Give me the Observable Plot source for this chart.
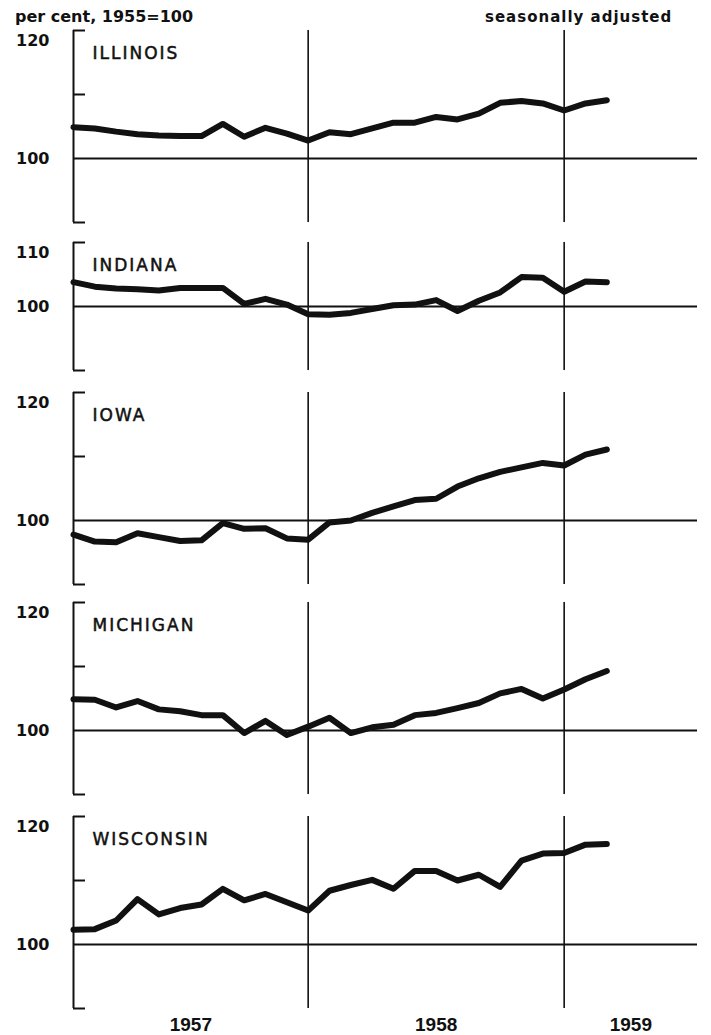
<!DOCTYPE html>
<html>
<head>
<meta charset="utf-8">
<script src="https://cdn.jsdelivr.net/npm/d3@7"></script>
<script src="https://cdn.jsdelivr.net/npm/@observablehq/plot@0.6"></script>
<style>
  html, body { margin: 0; padding: 0; background: #fff; }
  #root { position: relative; width: 711px; height: 1035px; overflow: hidden; }
  .t { position: absolute; font-family: "DejaVu Sans", sans-serif; font-weight: bold; color: #111; white-space: nowrap; line-height: 1; }
</style>
</head>
<body>
<div id="root">
  <div class="t" style="left:15px; top:9px; font-size:16px;">per cent, 1955=100</div>
  <div class="t" style="left:485px; top:10px; font-size:15px; letter-spacing:1px;">seasonally adjusted</div>
</div>
<script>
// ---- data (monthly, Jan 1957 – Feb 1959; index 1955 = 100, seasonally adjusted) ----
const states = ["ILLINOIS", "INDIANA", "IOWA", "MICHIGAN", "WISCONSIN"];

const illinois  = [104.9, 104.7, 104.2, 103.8, 103.6, 103.5, 103.5, 105.4, 103.4, 104.8, 103.9, 102.8,
                   104.1, 103.8, 104.7, 105.6, 105.6, 106.5, 106.1, 107.0, 108.7, 109.0, 108.6, 107.5,
                   108.6, 109.1];
const indiana   = [103.8, 103.1, 102.8, 102.7, 102.5, 102.9, 102.9, 102.9, 100.4, 101.2, 100.3, 98.8,
                   98.7, 99.0, 99.6, 100.2, 100.3, 101.0, 99.3, 100.9, 102.2, 104.6, 104.5, 102.3,
                   103.9, 103.8];
const iowa      = [97.8, 96.7, 96.6, 98.0, 97.4, 96.8, 96.9, 99.6, 98.7, 98.8, 97.2, 97.0,
                   99.7, 100.0, 101.2, 102.2, 103.2, 103.4, 105.3, 106.6, 107.6, 108.3, 109.0, 108.6,
                   110.3, 111.1];
const michigan  = [104.9, 104.8, 103.6, 104.6, 103.3, 103.0, 102.4, 102.4, 99.6, 101.5, 99.3, 100.6,
                   102.0, 99.6, 100.5, 100.9, 102.4, 102.75, 103.5, 104.3, 105.8, 106.5, 105.0, 106.4,
                   108.0, 109.3];
const wisconsin = [102.3, 102.4, 103.75, 107.1, 104.7, 105.7, 106.25, 108.7, 106.9, 107.9, 106.6, 105.3,
                   108.4, 109.3, 110.1, 108.7, 111.5, 111.5, 110.0, 110.9, 109.0, 113.1, 114.2, 114.3,
                   115.6, 115.7];
const series = [illinois, indiana, iowa, michigan, wisconsin];

const yTops = [120, 110, 120, 120, 120];   // top of each panel's scale
const yBottom = 90;
const yearLabels = ["1957", "1958", "1959"];
const yearEnds = [11, 23];                 // month index of December 1957 / December 1958
const xDomain = [0, 29.25];                // month index from January 1957

// ---- layout ----
const PX_PER_UNIT = 6.4;
const pageTops = [30, 242, 392, 602, 816];
const FONT = "DejaVu Sans";
const INK = "#111";

const bounds = [xDomain[0], ...yearEnds, xDomain[1]];
const yearCenters = yearLabels.map((_, i) => (bounds[i] + bounds[i + 1]) / 2);

const root = document.getElementById("root");

states.forEach((name, i) => {
  const vals = series[i];
  const yMax = yTops[i];
  const last = i === states.length - 1;
  const mt = 12, mb = last ? 32 : 12;
  const h = (yMax - yBottom) * PX_PER_UNIT;
  const bracketTicks = d3.range(yBottom, yMax + 1, 10).filter(v => v !== 100);

  const marks = [
    Plot.ruleY([100], {stroke: INK, strokeWidth: 1.8}),
    Plot.ruleX(yearEnds, {y1: yBottom, y2: yMax, stroke: INK, strokeWidth: 1.6}),
    Plot.ruleX([xDomain[0]], {y1: yBottom, y2: yMax, stroke: INK, strokeWidth: 2}),
    Plot.axisY(bracketTicks, {tickSize: -12, tickFormat: () => "", stroke: INK, strokeWidth: 2, label: null}),
    Plot.axisY([100], {tickSize: 0, tickPadding: 24, fontSize: 16, fontWeight: "bold", fill: INK, label: null}),
    Plot.axisY([yMax], {tickSize: 0, tickPadding: 24, dy: 10, fontSize: 16, fontWeight: "bold", fill: INK, label: null}),
    Plot.line(vals, {x: (d, k) => k, y: d => d, stroke: INK, strokeWidth: 6,
                     strokeLinejoin: "round", strokeLinecap: "round"}),
    Plot.text([name], {frameAnchor: "top-left", dx: 19, dy: 16, text: d => d, textAnchor: "start",
                       fontSize: 17, fill: INK, stroke: INK, strokeWidth: 0.5})
  ];
  if (last) {
    marks.push(Plot.text(yearLabels, {x: (d, k) => yearCenters[k], frameAnchor: "bottom", dy: 22,
                                      text: d => d, fontSize: 19, fontWeight: "bold", fill: INK,
                                      fontFamily: "Liberation Sans"}));
  }

  const chart = Plot.plot({
    width: 711,
    height: h + mt + mb,
    marginLeft: 73, marginRight: 14, marginTop: mt, marginBottom: mb,
    style: {fontFamily: FONT, color: INK, background: "transparent", overflow: "visible"},
    x: {domain: xDomain, axis: null},
    y: {domain: [yBottom, yMax]},
    marks
  });
  chart.querySelectorAll("text").forEach(t => {
    if (t.textContent === name) t.style.letterSpacing = "2px";
  });
  chart.style.position = "absolute";
  chart.style.left = "0px";
  chart.style.top = (pageTops[i] - mt) + "px";
  root.appendChild(chart);
});
</script>
</body>
</html>
